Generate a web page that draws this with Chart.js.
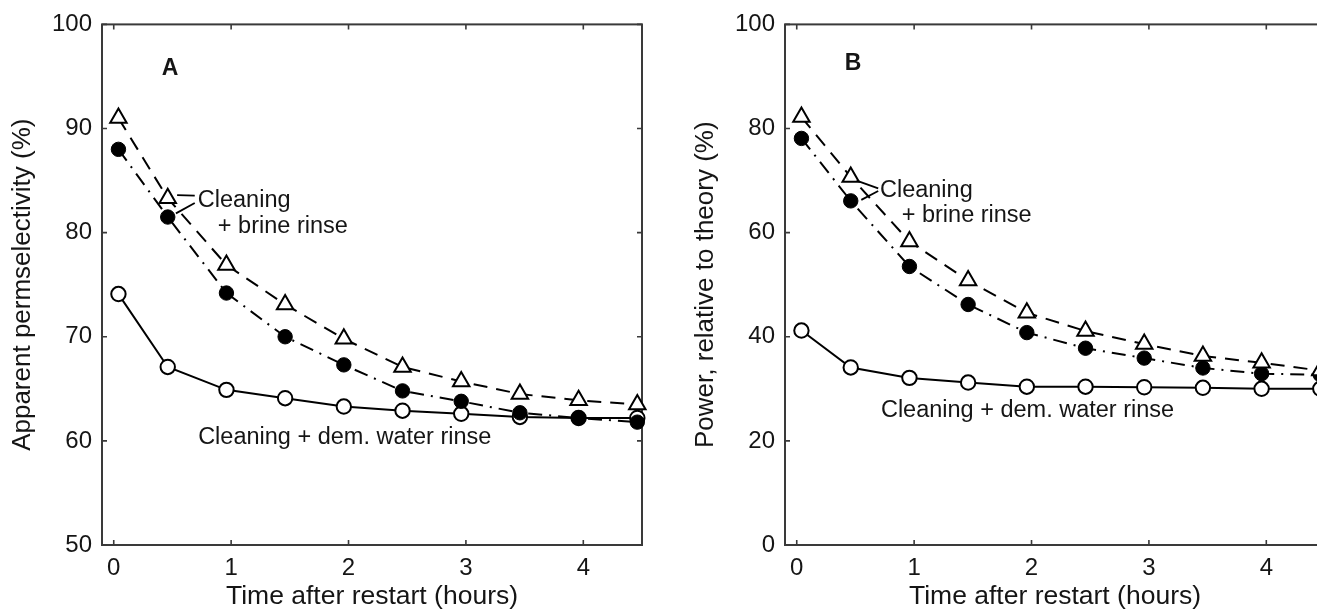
<!DOCTYPE html>
<html>
<head>
<meta charset="utf-8">
<script src="https://cdn.jsdelivr.net/npm/chart.js@4.4.1/dist/chart.umd.min.js"></script>
<style>
  html, body { margin: 0; padding: 0; background: #fff; overflow: hidden; width: 1317px; height: 613px; }
  .panel { position: absolute; top: 0; }
</style>
</head>
<body>
<canvas id="panelA" class="panel" width="660" height="613" style="left:0px"></canvas>
<canvas id="panelB" class="panel" width="660" height="613" style="left:683px"></canvas>
<script>
// Sampling times after restart (hours)
const hours = [0.04, 0.46, 0.96, 1.46, 1.96, 2.46, 2.96, 3.46, 3.96, 4.46];
const hourTicks = [0, 1, 2, 3, 4];

// Panel A: apparent permselectivity (%)
const permTriangle = [91.0, 83.3, 76.9, 73.1, 69.8, 67.1, 65.7, 64.5, 63.9, 63.5];
const permDot      = [88.0, 81.5, 74.2, 70.0, 67.3, 64.8, 63.8, 62.7, 62.2, 61.8];
const permWater    = [74.1, 67.1, 64.9, 64.1, 63.3, 62.9, 62.6, 62.3, 62.2, 62.2];
const permTicks    = [50, 60, 70, 80, 90, 100];

// Panel B: power relative to theory (%)
const powerTriangle = [82.2, 70.7, 58.3, 50.8, 44.6, 41.1, 38.6, 36.3, 35.0, 33.5];
const powerDot      = [78.1, 66.1, 53.5, 46.2, 40.8, 37.8, 35.9, 34.0, 32.9, 32.7];
const powerWater    = [41.2, 34.1, 32.1, 31.2, 30.4, 30.4, 30.3, 30.2, 30.0, 30.0];
const powerTicks    = [0, 20, 40, 60, 80, 100];

const FAMILY = '"Liberation Sans", Arial, Helvetica, sans-serif';
const INK = '#151515';

const pts = (vals) => hours.map((h, i) => ({ x: h, y: vals[i] }));

// Box frame with inward tick marks on all four sides
const framePlugin = {
  id: 'frame',
  beforeDatasetsDraw(chart) {
    const { ctx, chartArea: a, scales: { x, y } } = chart;
    ctx.save();
    ctx.strokeStyle = '#3a3a3a';
    ctx.lineWidth = 2;
    ctx.strokeRect(a.left, a.top, a.right - a.left, a.bottom - a.top);
    ctx.lineWidth = 1.6;
    ctx.beginPath();
    x.ticks.forEach(t => {
      const p = x.getPixelForValue(t.value);
      ctx.moveTo(p, a.bottom); ctx.lineTo(p, a.bottom - 5);
      ctx.moveTo(p, a.top);    ctx.lineTo(p, a.top + 5);
    });
    y.ticks.forEach(t => {
      const p = y.getPixelForValue(t.value);
      ctx.moveTo(a.left, p);  ctx.lineTo(a.left + 5, p);
      ctx.moveTo(a.right, p); ctx.lineTo(a.right - 5, p);
    });
    ctx.stroke();
    ctx.restore();
  }
};

// Text labels and leader lines placed in data coordinates
const notesPlugin = {
  id: 'notes',
  afterDatasetsDraw(chart, args, opts) {
    const { ctx, scales: { x, y } } = chart;
    ctx.save();
    ctx.strokeStyle = '#000';
    ctx.lineWidth = 1.8;
    (opts.leaders || []).forEach(l => {
      ctx.beginPath();
      ctx.moveTo(x.getPixelForValue(l[0]), y.getPixelForValue(l[1]));
      ctx.lineTo(x.getPixelForValue(l[2]), y.getPixelForValue(l[3]));
      ctx.stroke();
    });
    ctx.fillStyle = INK;
    ctx.textBaseline = 'alphabetic';
    (opts.labels || []).forEach(n => {
      ctx.font = (n.bold ? 'bold ' : '') + n.size + 'px ' + FAMILY;
      ctx.textAlign = n.align || 'left';
      ctx.fillText(n.text, x.getPixelForValue(n.x), y.getPixelForValue(n.y));
    });
    ctx.restore();
  }
};

function buildPanel(id, cfg) {
  return new Chart(document.getElementById(id), {
    type: 'line',
    data: {
      datasets: [
        {
          label: 'Cleaning + brine rinse (triangles)',
          data: pts(cfg.triangle),
          borderColor: '#000', borderWidth: 2, borderDash: [14, 9],
          pointStyle: 'triangle', pointRadius: 9.5, pointBorderWidth: 2,
          pointBackgroundColor: '#fff', pointBorderColor: '#000',
          tension: 0, clip: false, order: 1
        },
        {
          label: 'Cleaning + brine rinse (dots)',
          data: pts(cfg.dot),
          borderColor: '#000', borderWidth: 2, borderDash: [14, 7, 2, 7],
          pointStyle: 'circle', pointRadius: 7.2, pointBorderWidth: 1,
          pointBackgroundColor: '#000', pointBorderColor: '#000',
          tension: 0, clip: false, order: 2
        },
        {
          label: 'Cleaning + dem. water rinse',
          data: pts(cfg.water),
          borderColor: '#000', borderWidth: 2,
          pointStyle: 'circle', pointRadius: 7.2, pointBorderWidth: 2,
          pointBackgroundColor: '#fff', pointBorderColor: '#000',
          tension: 0, clip: false, order: 3
        }
      ]
    },
    options: {
      responsive: false,
      animation: false,
      events: [],
      layout: { padding: { left: 0, right: 18, top: 22, bottom: 0 } },
      plugins: {
        legend: { display: false },
        tooltip: { enabled: false },
        notes: { labels: cfg.labels, leaders: cfg.leaders }
      },
      scales: {
        x: {
          type: 'linear', min: -0.1, max: 4.5,
          afterBuildTicks: s => { s.ticks = hourTicks.map(v => ({ value: v })); },
          afterFit: s => { s.height = 68; },
          grid: { display: false, drawTicks: false },
          border: { display: false },
          ticks: { font: { size: 24, family: FAMILY }, color: INK, padding: 9, maxRotation: 0, autoSkip: false },
          title: { display: true, text: 'Time after restart (hours)', font: { size: 26.5, family: FAMILY }, color: INK, padding: { top: 0, bottom: 0 } }
        },
        y: {
          type: 'linear', min: cfg.yTicks[0], max: cfg.yTicks[cfg.yTicks.length - 1],
          afterBuildTicks: s => { s.ticks = cfg.yTicks.map(v => ({ value: v })); },
          afterFit: s => { s.width = 102; },
          grid: { display: false, drawTicks: false },
          border: { display: false },
          ticks: { font: { size: 24, family: FAMILY }, color: INK, padding: 10, autoSkip: false },
          title: { display: true, text: cfg.yTitle, font: { size: 26, family: FAMILY }, color: INK, padding: { top: 7, bottom: 0 } }
        }
      }
    },
    plugins: [framePlugin, notesPlugin]
  });
}

buildPanel('panelA', {
  triangle: permTriangle, dot: permDot, water: permWater, yTicks: permTicks,
  yTitle: 'Apparent permselectivity (%)',
  labels: [
    { text: 'A', x: 0.48, y: 95.1, size: 23, bold: true, align: 'center' },
    { text: 'Cleaning', x: 0.716, y: 82.5, size: 23.5 },
    { text: '+ brine rinse', x: 0.887, y: 79.95, size: 23.5 },
    { text: 'Cleaning + dem. water rinse', x: 0.719, y: 59.7, size: 23.5 }
  ],
  leaders: [
    [0.54, 83.6, 0.69, 83.55],
    [0.53, 81.85, 0.69, 82.85]
  ]
});

buildPanel('panelB', {
  triangle: powerTriangle, dot: powerDot, water: powerWater, yTicks: powerTicks,
  yTitle: 'Power, relative to theory (%)',
  labels: [
    { text: 'B', x: 0.479, y: 91.2, size: 23, bold: true, align: 'center' },
    { text: 'Cleaning', x: 0.709, y: 66.9, size: 23.5 },
    { text: '+ brine rinse', x: 0.894, y: 62.1, size: 23.5 },
    { text: 'Cleaning + dem. water rinse', x: 0.717, y: 24.5, size: 23.5 }
  ],
  leaders: [
    [0.51, 70.0, 0.694, 68.5],
    [0.55, 66.3, 0.694, 68.0]
  ]
});
</script>
</body>
</html>
